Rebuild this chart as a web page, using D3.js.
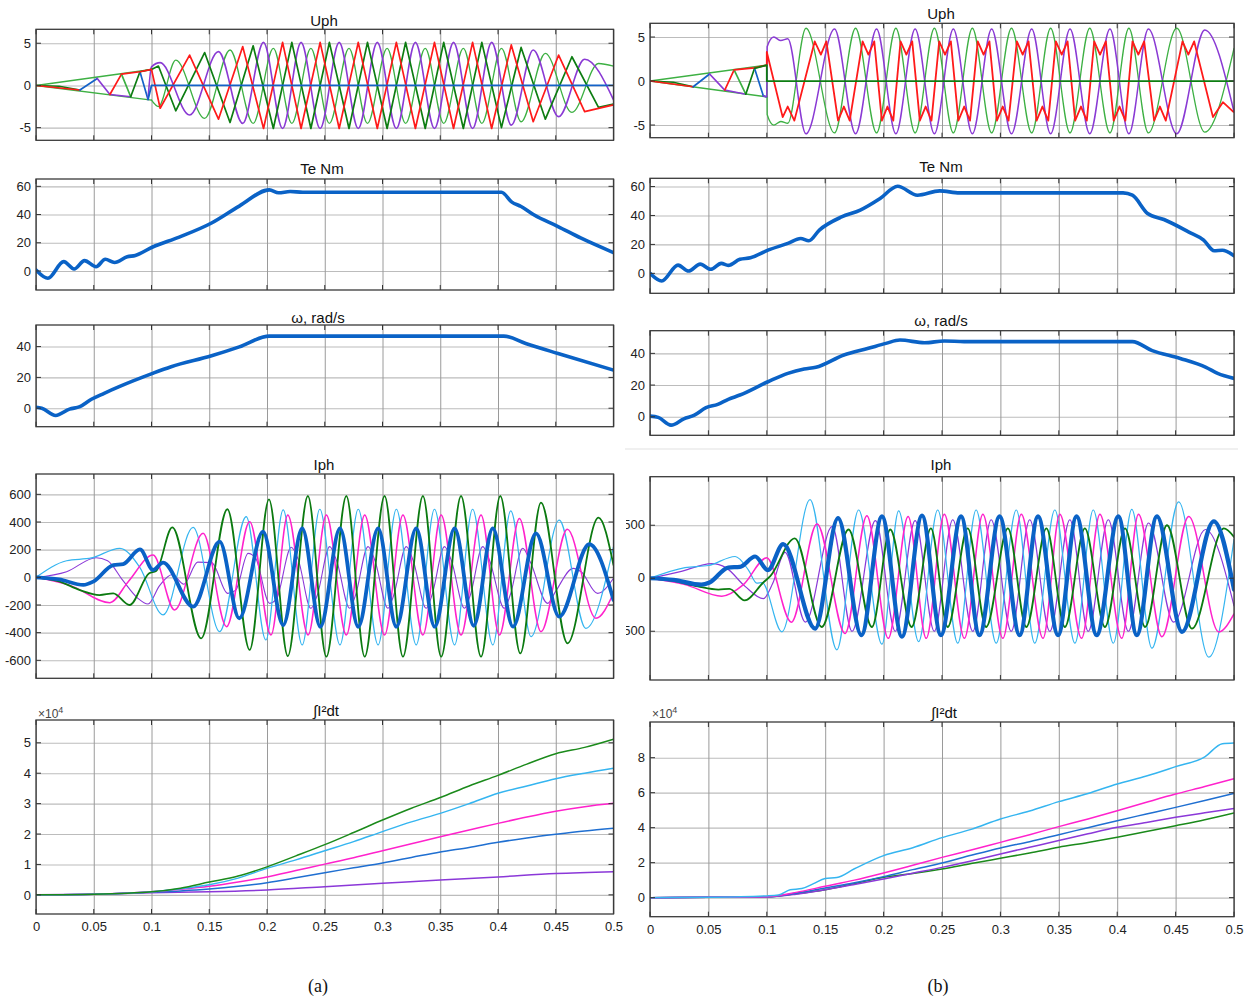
<!DOCTYPE html>
<html><head><meta charset="utf-8">
<script src="https://cdn.jsdelivr.net/npm/d3@7"></script>
<style>
html,body{margin:0;padding:0;background:#fff;}
svg text{font-family:"Liberation Sans",Arial,Helvetica,sans-serif;}
</style></head><body>
<script>
// ---------------- DATA ----------------
const xTicks = [0,0.05,0.1,0.15,0.2,0.25,0.3,0.35,0.4,0.45,0.5];
const titles = ["Uph","Te Nm","\u03c9, rad/s","Iph","\u222bI\u00b2dt"];
const captions = ["(a)","(b)"];

// Uph (a)
const uA_pre = [
  ["lgreen", [[0,0],[0.1,1.9]]],
  ["lgreen", [[0,0],[0.1,-1.74]]],
  ["dgreen", [[0,0],[0.02,-0.1],[0.038,-0.55]]],
  ["red",    [[0,0],[0.038,-0.55]]],
  ["purple", [[0.064,-1.07],[0.082,-1.34]]]
];
const uA_zig = [[0.038,-0.55],[0.053,0.83],[0.064,-1.07],[0.074,1.34],[0.082,-1.34],[0.090,1.62],[0.097,-1.66]];
const uA_zigPh = ["blue","purple","red","lgreen","dgreen","blue"];
const uA_purple = [[0.097,-1.66],[0.1,2.2],[0.1075,2.7],[0.133,-3.5],[0.158,4.0],[0.179,-4.5],[0.197,5.1],[0.2135,-5.1],[0.2295,5.1],[0.246,-5.1],[0.2625,5.1],[0.279,-5.1],[0.2955,5.1],[0.312,-5.1],[0.3285,5.1],[0.345,-5.1],[0.3615,5.1],[0.378,-5.1],[0.3945,5.1],[0.4115,-4.7],[0.4305,4.2],[0.4525,-3.7],[0.475,3.1],[0.5,-1.7]];
const uA_red = [[0.074,1.34],[0.09,1.62],[0.1,1.9],[0.1075,-2.7],[0.133,3.6],[0.158,-4.0],[0.179,4.6],[0.197,-5.1],[0.2135,5.1],[0.2295,-5.1],[0.246,5.1],[0.2625,-5.1],[0.279,5.1],[0.2955,-5.1],[0.312,5.1],[0.3285,-5.1],[0.345,5.1],[0.3615,-5.1],[0.378,5.1],[0.3945,-5.1],[0.4115,4.8],[0.4305,-4.3],[0.4525,3.6],[0.475,-3.1],[0.5,-2.3]];
const uA_lgreen = [[0.1,-1.74],[0.106,-2.5],[0.121,3.0],[0.146,-3.9],[0.168,4.2],[0.188,-4.5],[0.2055,4.4],[0.2215,-4.5],[0.238,4.4],[0.254,-4.5],[0.271,4.4],[0.287,-4.5],[0.304,4.4],[0.320,-4.5],[0.337,4.4],[0.353,-4.5],[0.370,4.4],[0.386,-4.5],[0.403,4.4],[0.420,-4.3],[0.441,3.8],[0.464,-3.2],[0.487,2.6],[0.5,2.3]];
const uA_dgreen = [[0.09,1.62],[0.1,1.9],[0.106,2.3],[0.121,-3.0],[0.146,3.9],[0.168,-4.4],[0.188,4.7],[0.2055,-5.1],[0.2215,5.1],[0.238,-5.1],[0.254,5.1],[0.271,-5.1],[0.287,5.1],[0.304,-5.1],[0.320,5.1],[0.337,-5.1],[0.353,5.1],[0.370,-5.1],[0.386,5.1],[0.403,-5.0],[0.420,4.5],[0.441,-4.0],[0.464,3.4],[0.487,-2.6],[0.5,-2.2]];
const uA_blue = [[0.097,-1.66],[0.1,0],[0.5,0]];

// Uph (b)
const uB_pre = [
  ["lgreen", [[0,0],[0.1,1.8]]],
  ["lgreen", [[0,0],[0.1,-1.8]]],
  ["dgreen", [[0,0],[0.02,-0.15],[0.037,-0.65]]],
  ["red",    [[0,0],[0.037,-0.65]]],
  ["purple", [[0.064,-1.03],[0.082,-1.5]]]
];
const uB_zig = [[0.037,-0.65],[0.051,0.8],[0.064,-1.03],[0.072,1.26],[0.082,-1.5],[0.0895,1.45],[0.097,-1.68],[0.1,-1.8]];
const uB_zigPh = ["blue","purple","red","lgreen","dgreen","blue","blue"];
const uB_purple = [[0.097,-1.68],[0.1,-1.8],[0.1003,3.9],[0.106,5.0],[0.112,4.6],[0.118,4.8],[0.1335,-6.0],[0.158,5.9],[0.176,-6.0],[0.194,5.9],[0.2105,-6.0],[0.227,5.9],[0.2435,-6.0],[0.2597,5.9],[0.276,-6.0],[0.2925,5.9],[0.3095,-6.0],[0.3268,5.9],[0.343,-6.0],[0.3596,5.9],[0.3765,-6.0],[0.3938,5.9],[0.410,-6.0],[0.4267,5.9],[0.451,-6.0],[0.475,5.8],[0.5,-3.5]];
const uB_lgreen = [[0.1,1.8],[0.1003,-3.8],[0.106,-5.0],[0.112,-4.6],[0.118,-4.8],[0.1335,6.0],[0.158,-5.9],[0.176,6.0],[0.194,-5.9],[0.2105,6.0],[0.227,-5.9],[0.2435,6.0],[0.2597,-5.9],[0.276,6.0],[0.2925,-5.9],[0.3095,6.0],[0.3268,-5.9],[0.343,6.0],[0.3596,-5.9],[0.3765,6.0],[0.3938,-5.9],[0.410,6.0],[0.4267,-5.9],[0.451,6.0],[0.475,-5.8],[0.5,3.7]];
const uB_red = [[0.072,1.26],[0.0895,1.5],[0.1,1.8],[0.1,3.3],[0.1136,-4.1],[0.1179,-2.9],[0.1236,-4.5],[0.141,4.5],[0.1463,3.0],[0.151,4.5],[0.161,-4.5],[0.166,-2.9],[0.171,-4.5],[0.182,4.5],[0.187,3.0],[0.192,4.5],[0.1985,-4.5],[0.2033,-2.9],[0.2083,-4.5],[0.2145,4.5],[0.2195,3.0],[0.2245,4.5],[0.231,-4.5],[0.236,-2.9],[0.241,-4.5],[0.2476,4.5],[0.2526,3.0],[0.2576,4.5],[0.264,-4.5],[0.269,-2.9],[0.274,-4.5],[0.2806,4.5],[0.2856,3.0],[0.2906,4.5],[0.297,-4.5],[0.302,-2.9],[0.307,-4.5],[0.3141,4.5],[0.3191,3.0],[0.3241,4.5],[0.331,-4.5],[0.336,-2.9],[0.341,-4.5],[0.3475,4.5],[0.3525,3.0],[0.3575,4.5],[0.364,-4.5],[0.369,-2.9],[0.374,-4.5],[0.3803,4.5],[0.3853,3.0],[0.3903,4.5],[0.397,-4.5],[0.402,-2.9],[0.407,-4.5],[0.4131,4.5],[0.4181,3.0],[0.4231,4.5],[0.4316,-4.5],[0.4366,-2.9],[0.4416,-4.5],[0.4559,4.5],[0.4609,3.0],[0.4659,4.5],[0.482,-4.1],[0.4905,-2.4],[0.4995,-3.5]];
const uB_dgreen = [[0.0895,1.45],[0.1,1.8],[0.1,0],[0.5,0]];

// Te
const teA = [[0,0.7],[0.0103,-5.2],[0.024,6.6],[0.033,1.4],[0.042,7.3],[0.052,3],[0.06,8.3],[0.068,6],[0.079,10],[0.086,11],[0.101,17],[0.124,24],[0.152,34],[0.176,46],[0.202,57.5],[0.21,55.4],[0.22,56.3],[0.231,55.8],[0.403,55.8],[0.412,48.8],[0.42,45.7],[0.431,39.8],[0.452,31.5],[0.472,23.2],[0.5,13]];
const teB = [[0,0],[0.010,-5.3],[0.024,5.7],[0.033,1.6],[0.043,6.4],[0.052,2.8],[0.061,6.9],[0.067,5.5],[0.077,9.7],[0.086,10.8],[0.101,16],[0.118,20.7],[0.129,24.1],[0.136,22.5],[0.145,29.9],[0.164,39],[0.18,43.7],[0.197,51.7],[0.212,60.2],[0.229,54],[0.248,57],[0.265,55.6],[0.405,55.6],[0.413,54],[0.426,41.4],[0.44,37.2],[0.461,28.7],[0.474,23],[0.483,15.6],[0.49,16],[0.5,12.2]];
// omega
const wA = [[0,0.6],[0.005,0],[0.017,-4.7],[0.029,-0.6],[0.038,1],[0.048,5.8],[0.059,9.7],[0.072,14],[0.101,22.6],[0.117,26.9],[0.152,34],[0.176,39.8],[0.202,46.8],[0.405,46.8],[0.424,42],[0.452,35.5],[0.5,24.7]];
const wB = [[0,0.4],[0.007,-0.4],[0.018,-5.3],[0.029,-1.3],[0.038,1],[0.048,5.7],[0.058,7.8],[0.067,11],[0.077,13.7],[0.101,22.1],[0.118,27.4],[0.132,30.1],[0.142,31.2],[0.166,39],[0.187,43.2],[0.202,46.3],[0.214,48.4],[0.235,46.7],[0.252,47.8],[0.269,47.4],[0.413,47.4],[0.43,41.7],[0.454,36.8],[0.476,31.2],[0.486,27.4],[0.5,24.2]];

// Iph (a)
const iA_blue = [[0,0],[0.02,-15],[0.041,-55],[0.0496,-31],[0.0669,89],[0.0755,96],[0.09,202],[0.1014,53],[0.11,106],[0.136,-212],[0.159,258],[0.176,-296],[0.1965,330],[0.214,-345],[0.2305,354],[0.2462,-357],[0.2632,354],[0.279,-357],[0.2962,354],[0.312,-357],[0.3292,354],[0.3452,-357],[0.3624,354],[0.379,-350],[0.3955,354],[0.413,-357],[0.4329,318],[0.453,-284],[0.479,239],[0.5,-164]];
const iA_green = [[0,0],[0.02,-30],[0.038,-92],[0.055,-128],[0.0669,-116],[0.081,-200],[0.098,30],[0.104,45],[0.118,361],[0.143,-441],[0.1657,492],[0.185,-525],[0.2017,564],[0.218,-569],[0.2354,588],[0.2514,-574],[0.2687,588],[0.2846,-574],[0.3018,588],[0.3177,-574],[0.335,588],[0.3508,-574],[0.368,588],[0.3853,-574],[0.402,588],[0.4193,-550],[0.4372,540],[0.4602,-477],[0.487,431],[0.5,89]];
const iA_cyan = [[0,0],[0.0265,120],[0.048,140],[0.0726,210],[0.09,70],[0.11,-272],[0.136,361],[0.159,-393],[0.182,439],[0.199,-453],[0.214,487],[0.2305,-489],[0.2457,492],[0.2632,-489],[0.279,492],[0.2962,-489],[0.312,492],[0.3292,-489],[0.345,492],[0.3624,-489],[0.378,492],[0.3955,-489],[0.411,480],[0.4286,-429],[0.453,414],[0.476,-369],[0.5,222]];
const iA_magenta = [[0,0],[0.03,-60],[0.064,-183],[0.08,-30],[0.1014,161],[0.12,-236],[0.1447,318],[0.165,-357],[0.185,402],[0.2035,-417],[0.218,450],[0.2356,-417],[0.2514,450],[0.2687,-417],[0.2846,450],[0.3018,-417],[0.3177,450],[0.335,-417],[0.3508,450],[0.368,-417],[0.3853,450],[0.4012,-417],[0.4185,426],[0.4372,-393],[0.46,347],[0.4847,-296],[0.5,-116]];
const iA_purple = [[0,0],[0.0265,41],[0.052,142],[0.062,120],[0.075,-20],[0.088,-150],[0.097,-193],[0.107,-60],[0.118,20],[0.128,-50],[0.14,110],[0.152,106],[0.166,-116],[0.173,-92],[0.1836,173],[0.19,140],[0.2023,-188],[0.208,-160],[0.221,217],[0.227,130],[0.238,-224],[0.2435,-130],[0.2543,222],[0.2603,120],[0.2716,-224],[0.2766,-130],[0.2875,222],[0.2935,120],[0.3047,-224],[0.3097,-130],[0.3206,222],[0.3266,120],[0.3378,-224],[0.3428,-130],[0.3537,222],[0.3597,120],[0.371,-224],[0.376,-130],[0.3868,222],[0.3928,120],[0.4055,-224],[0.4105,-130],[0.4214,210],[0.428,110],[0.443,-188],[0.45,-100],[0.465,65],[0.472,40],[0.4862,-116],[0.5,-7]];

// Iph (b)
const iB_blue = [[0,0],[0.02,-15],[0.044,-61],[0.051,-40],[0.067,101],[0.077,107],[0.09,205],[0.101,77],[0.114,322],[0.1414,-475],[0.161,567],[0.181,-537],[0.1986,583],[0.2157,-552],[0.2329,592],[0.2491,-537],[0.2663,583],[0.2821,-537],[0.2993,583],[0.3165,-537],[0.3322,583],[0.3494,-537],[0.3652,583],[0.3824,-537],[0.401,583],[0.4168,-537],[0.434,583],[0.4555,-506],[0.4827,537],[0.5,-107]];
const iB_green = [[0,0],[0.02,-25],[0.041,-77],[0.0586,-107],[0.068,-100],[0.081,-209],[0.097,-40],[0.103,20],[0.124,377],[0.147,-460],[0.17,460],[0.19,-460],[0.2057,460],[0.224,-460],[0.2405,470],[0.2549,-460],[0.272,470],[0.2878,-460],[0.3064,470],[0.3222,-460],[0.3394,470],[0.3552,-460],[0.3723,470],[0.3895,-460],[0.4067,470],[0.4239,-460],[0.4426,500],[0.464,-475],[0.4913,470],[0.5,390]];
const iB_cyan = [[0,0],[0.03,101],[0.05,120],[0.0729,205],[0.0843,77],[0.0914,-46],[0.096,-40],[0.1129,-506],[0.137,742],[0.16,-675],[0.1786,644],[0.1986,-622],[0.2129,635],[0.23,-598],[0.2463,644],[0.2635,-613],[0.2792,644],[0.2964,-613],[0.3136,644],[0.3294,-613],[0.3466,644],[0.3638,-613],[0.3795,644],[0.3967,-613],[0.4125,650],[0.4297,-660],[0.4526,720],[0.4784,-745],[0.5,368]];
const iB_magenta = [[0,0],[0.03,-60],[0.0614,-169],[0.08,-60],[0.1,193],[0.121,-414],[0.143,512],[0.167,-521],[0.1857,589],[0.204,-567],[0.221,583],[0.2365,-567],[0.252,604],[0.2692,-567],[0.285,604],[0.3021,-567],[0.3179,604],[0.3365,-567],[0.3509,604],[0.3695,-567],[0.3852,604],[0.4039,-567],[0.4182,604],[0.4383,-552],[0.4612,583],[0.487,-506],[0.5,-337]];
const iB_purple = [[0,0],[0.025,60],[0.053,138],[0.065,100],[0.0814,-77],[0.097,-193],[0.105,-50],[0.1157,245],[0.133,-414],[0.156,490],[0.173,-500],[0.193,543],[0.21,-500],[0.227,543],[0.2434,-500],[0.2592,552],[0.2764,-500],[0.2921,552],[0.3093,-500],[0.3251,552],[0.3423,-500],[0.3595,552],[0.3752,-500],[0.3924,552],[0.4096,-500],[0.4268,521],[0.4483,-414],[0.4755,460],[0.5,-260]];

// integral of I^2 (x10^4)
const gA_green = [[0,0],[0.05,0.02],[0.1,0.1],[0.125,0.22],[0.15,0.42],[0.175,0.62],[0.2,0.92],[0.225,1.28],[0.25,1.65],[0.275,2.05],[0.3,2.46],[0.325,2.85],[0.35,3.2],[0.375,3.58],[0.4,3.93],[0.425,4.3],[0.45,4.64],[0.475,4.85],[0.5,5.12]];
const gA_cyan = [[0,0],[0.05,0.02],[0.1,0.1],[0.125,0.2],[0.15,0.33],[0.175,0.55],[0.2,0.87],[0.225,1.15],[0.25,1.45],[0.275,1.75],[0.3,2.08],[0.325,2.4],[0.35,2.68],[0.375,3.0],[0.4,3.34],[0.425,3.58],[0.45,3.82],[0.475,4.0],[0.5,4.16]];
const gA_magenta = [[0,0],[0.05,0.02],[0.1,0.1],[0.125,0.18],[0.15,0.28],[0.175,0.42],[0.2,0.59],[0.225,0.8],[0.25,1.01],[0.275,1.22],[0.3,1.45],[0.325,1.68],[0.35,1.91],[0.375,2.13],[0.4,2.35],[0.425,2.56],[0.45,2.75],[0.475,2.9],[0.5,3.01]];
const gA_blue = [[0,0],[0.05,0.02],[0.1,0.09],[0.125,0.13],[0.15,0.19],[0.175,0.28],[0.2,0.4],[0.225,0.56],[0.25,0.73],[0.275,0.89],[0.3,1.05],[0.325,1.23],[0.35,1.41],[0.375,1.56],[0.4,1.73],[0.425,1.87],[0.45,1.99],[0.475,2.1],[0.5,2.19]];
const gA_purple = [[0,0],[0.05,0.02],[0.1,0.07],[0.15,0.1],[0.2,0.16],[0.25,0.27],[0.3,0.38],[0.35,0.49],[0.4,0.59],[0.45,0.7],[0.5,0.76]];
const gB_cyan = [[0,0],[0.05,0.02],[0.1,0.1],[0.11,0.15],[0.12,0.45],[0.13,0.52],[0.14,0.8],[0.15,1.1],[0.16,1.15],[0.175,1.65],[0.2,2.4],[0.225,2.85],[0.25,3.43],[0.275,3.9],[0.3,4.5],[0.325,4.95],[0.35,5.49],[0.375,5.95],[0.4,6.5],[0.425,6.95],[0.45,7.49],[0.475,8.05],[0.49,8.8],[0.5,8.84]];
const gB_magenta = [[0,0],[0.05,0.02],[0.1,0.05],[0.125,0.3],[0.15,0.65],[0.175,1.0],[0.2,1.41],[0.225,1.85],[0.25,2.3],[0.275,2.72],[0.3,3.16],[0.325,3.6],[0.35,4.06],[0.375,4.5],[0.4,4.97],[0.425,5.45],[0.45,5.92],[0.475,6.35],[0.5,6.8]];
const gB_blue = [[0,0],[0.05,0.02],[0.1,0.05],[0.125,0.25],[0.15,0.55],[0.175,0.85],[0.2,1.2],[0.225,1.6],[0.25,1.98],[0.275,2.42],[0.3,2.84],[0.325,3.2],[0.35,3.6],[0.375,4.0],[0.4,4.4],[0.425,4.78],[0.45,5.16],[0.475,5.55],[0.5,5.96]];
const gB_purple = [[0,0],[0.05,0.02],[0.1,0.05],[0.125,0.2],[0.15,0.45],[0.175,0.75],[0.2,1.07],[0.225,1.4],[0.25,1.73],[0.275,2.1],[0.3,2.5],[0.325,2.88],[0.35,3.26],[0.375,3.65],[0.4,4.02],[0.425,4.3],[0.45,4.59],[0.475,4.85],[0.5,5.1]];
const gB_green = [[0,0],[0.05,0.02],[0.1,0.05],[0.125,0.22],[0.15,0.45],[0.175,0.8],[0.2,1.16],[0.225,1.38],[0.25,1.64],[0.275,1.95],[0.3,2.25],[0.325,2.55],[0.35,2.88],[0.375,3.15],[0.4,3.45],[0.425,3.78],[0.45,4.11],[0.475,4.45],[0.5,4.84]];

// ---------------- RENDER ----------------
const COL = {red:"#ff1a1a", purple:"#8a3ad4", dgreen:"#0d7d12", lgreen:"#3db043", blue:"#1462c8",
             ibl:"#0a62c6", icy:"#35b5f0", imag:"#ff22cc", igr:"#0b7a10", ipu:"#8b38d8"};
const svg = d3.select("body").append("svg").attr("width",1245).attr("height",1001).style("display","block");
svg.append("rect").attr("width",1245).attr("height",1001).attr("fill","#fff");
const defs = svg.append("defs");
let clipN = 0;
const TICKFONT = 13, TITLEFONT = 15;

function panel(p){
  const g = svg.append("g");
  const x = d3.scaleLinear().domain([0,0.5]).range([p.x0,p.x1]);
  const y = d3.scaleLinear().domain(p.yDom).range([p.bottom,p.top]);
  const w = p.x1-p.x0, h = p.bottom-p.top;
  g.append("text").attr("x",p.tx).attr("y",p.ty).attr("text-anchor","middle")
    .attr("font-size",TITLEFONT).attr("fill","#111").text(p.title);
  g.append("rect").attr("x",p.x0).attr("y",p.top).attr("width",w).attr("height",h).attr("fill","#fff");
  const gy = g.append("g").attr("transform",`translate(${p.x0},0)`)
    .call(d3.axisLeft(y).tickValues(p.yTicks).tickSize(-w).tickFormat(""));
  gy.select(".domain").remove();
  gy.selectAll("line").attr("stroke","#bcbcbc").attr("stroke-width",1.1);
  const gx = g.append("g").attr("transform",`translate(0,${p.bottom})`)
    .call(d3.axisBottom(x).tickValues(xTicks).tickSize(-h).tickFormat(""));
  gx.select(".domain").remove();
  gx.selectAll("line").attr("stroke","#9a9a9a").attr("stroke-width",1);
  // labels
  const lab = g.append("g").attr("transform",`translate(${p.x0},0)`)
    .call(d3.axisLeft(y).tickValues(p.yTicks).tickSize(0).tickPadding(5).tickFormat(d=>String(d)));
  lab.select(".domain").remove();
  lab.selectAll("text").attr("font-size",TICKFONT).attr("fill","#222")
     .style("font-family","'Liberation Sans',Arial,sans-serif");
  if (p.labClip){
    const cid = "lc"+(clipN++);
    defs.append("clipPath").attr("id",cid).append("rect").attr("x",p.labClip).attr("y",p.top-20).attr("width",p.x0-p.labClip).attr("height",h+40);
    lab.attr("clip-path",`url(#${cid})`);
    lab.attr("transform",null).selectAll(".tick").attr("transform",d=>`translate(${p.x0},${y(d)})`);
  }
  if (p.xLabels){
    const xl = g.append("g").attr("transform",`translate(0,${p.bottom})`)
      .call(d3.axisBottom(x).tickValues(xTicks).tickSize(0).tickPadding(8).tickFormat(d=>String(d)));
    xl.select(".domain").remove();
    xl.selectAll("text").attr("font-size",TICKFONT).attr("fill","#222")
      .style("font-family","'Liberation Sans',Arial,sans-serif");
  }
  const id = "c"+(clipN++);
  defs.append("clipPath").attr("id",id).append("rect").attr("x",p.x0).attr("y",p.top).attr("width",w).attr("height",h);
  const lines = g.append("g").attr("clip-path",`url(#${id})`);
  const P = {g,x,y,lines,p};
  P.line = (pts,color,width,curve)=>{
    lines.append("path").datum(pts).attr("fill","none").attr("stroke",color).attr("stroke-width",width)
      .attr("stroke-linejoin","round").attr("stroke-linecap","round")
      .attr("d", d3.line().x(d=>x(d[0])).y(d=>y(d[1])).curve(curve||d3.curveMonotoneX));
  };
  P.finish = ()=>{
    const t = g.append("g").attr("stroke","#333").attr("stroke-width",1);
    xTicks.forEach(v=>{
      t.append("line").attr("x1",x(v)).attr("x2",x(v)).attr("y1",p.bottom).attr("y2",p.bottom-5);
      t.append("line").attr("x1",x(v)).attr("x2",x(v)).attr("y1",p.top).attr("y2",p.top+5);
    });
    p.yTicks.forEach(v=>{
      t.append("line").attr("x1",p.x0).attr("x2",p.x0+5).attr("y1",y(v)).attr("y2",y(v));
      t.append("line").attr("x1",p.x1).attr("x2",p.x1-5).attr("y1",y(v)).attr("y2",y(v));
    });
    g.append("rect").attr("x",p.x0).attr("y",p.top).attr("width",w).attr("height",h)
      .attr("fill","none").attr("stroke","#3a3a3a").attr("stroke-width",1.3);
  };
  return P;
}

const L = {x0:36, x1:613.5}, R = {x0:650, x1:1234};

// Row 1 Uph
function drawUph(P, pre, zig, zigPh, order){
  pre.forEach(([ph,pts])=>P.line(pts, COL[ph], 1.5, d3.curveLinear));
  for (let i=0;i<zigPh.length;i++) P.line([zig[i],zig[i+1]], COL[zigPh[i]], 1.7, d3.curveLinear);
  order.forEach(([ph,pts,curve,wd])=>P.line(pts, COL[ph], wd, curve));
}
let P;
P = panel({...L, top:29.3, bottom:140.3, yDom:[-6.5,6.65], yTicks:[-5,0,5], title:titles[0], tx:324, ty:26});
drawUph(P, uA_pre, uA_zig, uA_zigPh, [
  ["lgreen",uA_lgreen,d3.curveMonotoneX,1.3],["purple",uA_purple,d3.curveMonotoneX,1.6],
  ["dgreen",uA_dgreen,d3.curveLinear,1.7],["red",uA_red,d3.curveLinear,1.7],["blue",uA_blue,d3.curveLinear,1.8]]);
P.finish();
P = panel({...R, top:23.3, bottom:137.7, yDom:[-6.44,6.56], yTicks:[-5,0,5], title:titles[0], tx:941, ty:18.6});
drawUph(P, uB_pre, uB_zig, uB_zigPh, [
  ["lgreen",uB_lgreen,d3.curveMonotoneX,1.3],["purple",uB_purple,d3.curveMonotoneX,1.5],
  ["red",uB_red,d3.curveLinear,1.8],["dgreen",uB_dgreen,d3.curveLinear,1.8]]);
P.finish();

// Row 2 Te
P = panel({...L, top:179, bottom:290, yDom:[-13.5,65.2], yTicks:[0,20,40,60], title:titles[1], tx:322, ty:174.3});
P.line(teA, COL.ibl, 3.6); P.finish();
P = panel({...R, top:178.3, bottom:293.3, yDom:[-13.8,65.7], yTicks:[0,20,40,60], title:titles[1], tx:941, ty:172.3});
P.line(teB, COL.ibl, 3.6); P.finish();

// Row 3 omega
P = panel({...L, top:325, bottom:426.7, yDom:[-12,54], yTicks:[0,20,40], title:titles[2], tx:318, ty:323});
P.line(wA, COL.ibl, 3.6); P.finish();
P = panel({...R, top:330.7, bottom:435.3, yDom:[-11.7,54.3], yTicks:[0,20,40], title:titles[2], tx:941, ty:326.3});
P.line(wB, COL.ibl, 3.6); P.finish();

// separator
svg.append("line").attr("x1",625).attr("x2",1238).attr("y1",449).attr("y2",449).attr("stroke","#e2e2e2").attr("stroke-width",1.2);

// Row 4 Iph
P = panel({...L, top:474, bottom:678.3, yDom:[-730,747], yTicks:[-600,-400,-200,0,200,400,600], title:titles[3], tx:324, ty:470.3});
P.line(iA_purple, COL.ipu, 1.1); P.line(iA_cyan, COL.icy, 1.2); P.line(iA_magenta, COL.imag, 1.5);
P.line(iA_green, COL.igr, 1.8); P.line(iA_blue, COL.ibl, 3.8); P.finish();
P = panel({...R, top:476.7, bottom:680, yDom:[-960,958], yTicks:[-500,0,500], title:titles[3], tx:941, ty:470.3, labClip:626});
P.line(iB_purple, COL.ipu, 1.2); P.line(iB_cyan, COL.icy, 1.2); P.line(iB_magenta, COL.imag, 1.5);
P.line(iB_green, COL.igr, 1.8); P.line(iB_blue, COL.ibl, 4.2); P.finish();

// Row 5 integral
P = panel({...L, top:720, bottom:914, yDom:[-0.63,5.75], yTicks:[0,1,2,3,4,5], title:titles[4], tx:326, ty:716, xLabels:true});
P.line(gA_purple, COL.ipu, 1.5); P.line(gA_blue, "#1f6fd1", 1.5); P.line(gA_magenta, COL.imag, 1.5);
P.line(gA_cyan, COL.icy, 1.5); P.line(gA_green, "#1b8a1b", 1.5); P.finish();
P = panel({...R, top:722, bottom:916.7, yDom:[-1.09,10.04], yTicks:[0,2,4,6,8], title:titles[4], tx:944, ty:718.3, xLabels:true});
P.line(gB_green, "#1b8a1b", 1.5); P.line(gB_purple, COL.ipu, 1.5); P.line(gB_blue, "#1f6fd1", 1.5);
P.line(gB_magenta, COL.imag, 1.5); P.line(gB_cyan, COL.icy, 1.5); P.finish();

// x10^4 exponents
[[38,718],[652,718]].forEach(([ex,ey])=>{
  const t = svg.append("text").attr("x",ex).attr("y",ey).attr("font-size",12).attr("fill","#444");
  t.append("tspan").text("\u00d710");
  t.append("tspan").attr("dy",-5).attr("font-size",9).text("4");
});

// captions
[[318,992,captions[0]],[938,992,captions[1]]].forEach(([cx,cy,s])=>{
  svg.append("text").attr("x",cx).attr("y",cy).attr("text-anchor","middle").attr("font-size",18)
    .style("font-family","'Liberation Serif','DejaVu Serif',serif").attr("fill","#111").text(s);
});
</script></body></html>
